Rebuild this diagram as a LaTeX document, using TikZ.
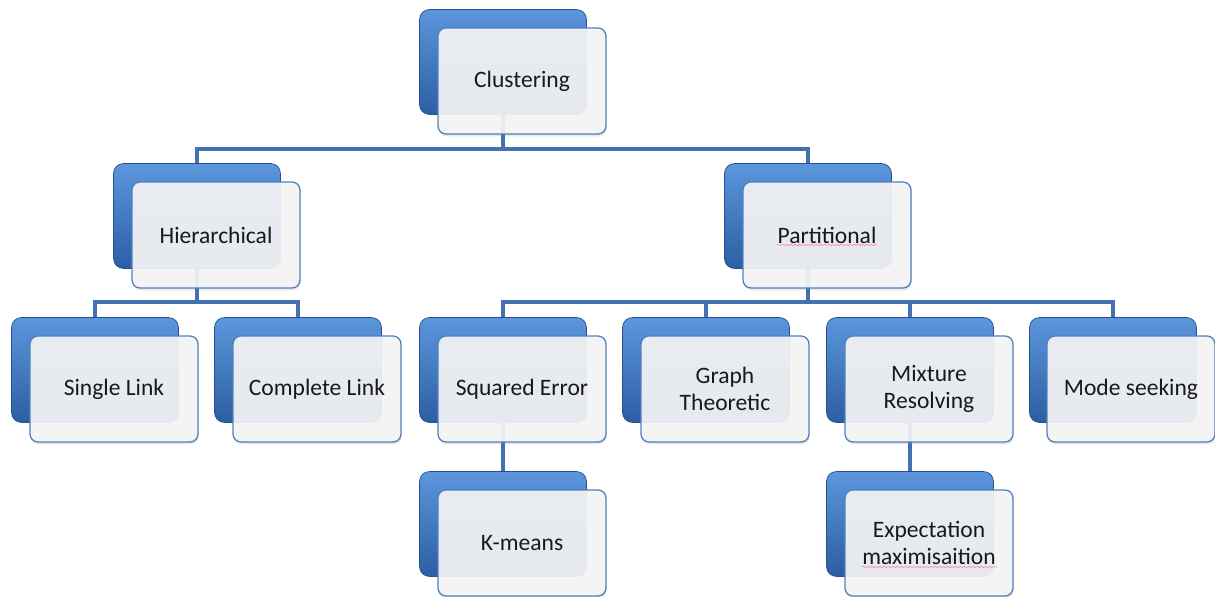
\documentclass[tikz,border=0pt]{standalone}
\usepackage{fontspec}
\setmainfont{Carlito}
\usetikzlibrary{backgrounds,shadows,decorations.pathmorphing}

\definecolor{boxblue}{RGB}{66,122,194}
\definecolor{boxtop}{RGB}{92,150,220}
\definecolor{boxbot}{RGB}{44,94,164}
\definecolor{wireblue}{RGB}{68,114,176}
\definecolor{frontedge}{RGB}{79,129,189}
\definecolor{frontfill}{RGB}{245,245,246}

\begin{document}
\begin{tikzpicture}[x=0.02cm, y=-0.02cm,
  backbox/.style={rounded corners=0.2cm, minimum width=3.34cm, minimum height=2.1cm,
    inner sep=0pt, outer sep=0pt, top color=boxtop, middle color=boxblue,
    bottom color=boxbot, draw=boxbot!85!black, line width=0.4pt},
  frontbox/.style={rounded corners=0.16cm, minimum width=3.36cm, minimum height=2.12cm,
    inner sep=0pt, outer sep=0pt, fill=frontfill, fill opacity=0.92, text opacity=1,
    draw=frontedge, line width=0.75pt, align=center, text=black!90,
    font=\fontsize{13.4}{15.5}\selectfont,
    drop shadow={opacity=0.18, shadow xshift=0.4pt, shadow yshift=-1.4pt}},
  wire/.style={draw=wireblue, line width=2.5pt},
  squiggle/.style={draw=red!45!white, line width=0.35pt, decorate,
    decoration={snake, amplitude=0.45pt, segment length=2.4pt}}]
  \useasboundingbox (0,0) rectangle (1215,597);

  % top level
  \node[backbox] (cluB) at (503,62) {};
  \node[frontbox] (clu) at (522,81) {Clustering};

  % second row
  \node[backbox] (hieB) at (197,216) {};
  \node[frontbox] (hie) at (216,235) {Hierarchical};
  \node[backbox] (parB) at (808,216) {};
  \node[frontbox] (par) at (827,235) {Partitional};

  % third row
  \node[backbox] (sinB) at (95,370) {};
  \node[frontbox] (sin) at (114,389) {Single Link};
  \node[backbox] (comB) at (298,370) {};
  \node[frontbox] (com) at (317,389) {Complete Link};
  \node[backbox] (sqeB) at (503,370) {};
  \node[frontbox] (sqe) at (522,389) {Squared Error};
  \node[backbox] (graB) at (706,370) {};
  \node[frontbox] (gra) at (725,389) {Graph\\Theoretic};
  \node[backbox] (mixB) at (910,370) {};
  \node[frontbox] (mix) at (929,389) {Mixture\\Resolving};
  \node[backbox] (modB) at (1113,370) {};
  \node[frontbox] (mod) at (1131,389) {Mode seeking};

  % bottom row
  \node[backbox] (kmeB) at (503,524) {};
  \node[frontbox] (kme) at (522,543) {K-means};
  \node[backbox] (expB) at (910,524) {};
  \node[frontbox] (exp) at (929,543) {Expectation\\maximisaition};

  \draw[squiggle] ([shift={(-50,10)}]par.center) -- ([shift={(50,10)}]par.center);
  \draw[squiggle] ([shift={(-67,24)}]exp.center) -- ([shift={(68,24)}]exp.center);

  \begin{scope}[on background layer]
    \coordinate (busA) at (0,149);
    \coordinate (busB) at (0,302);
    \draw[wire] (cluB.south) -- (cluB.south |- busA);
    \draw[wire] (hieB.north) |- (busA -| parB.north) -- (parB.north);

    \draw[wire] (hieB.south) -- (hieB.south |- busB);
    \draw[wire] (sinB.north) |- (busB -| comB.north) -- (comB.north);

    \draw[wire] (parB.south) -- (parB.south |- busB);
    \draw[wire] (sqeB.north) |- (busB -| modB.north) -- (modB.north);
    \draw[wire] (graB.north) -- (graB.north |- busB);
    \draw[wire] (mixB.north) -- (mixB.north |- busB);

    \draw[wire] (sqeB.south) -- (kmeB.north);
    \draw[wire] (mixB.south) -- (expB.north);
  \end{scope}
\end{tikzpicture}
\end{document}
